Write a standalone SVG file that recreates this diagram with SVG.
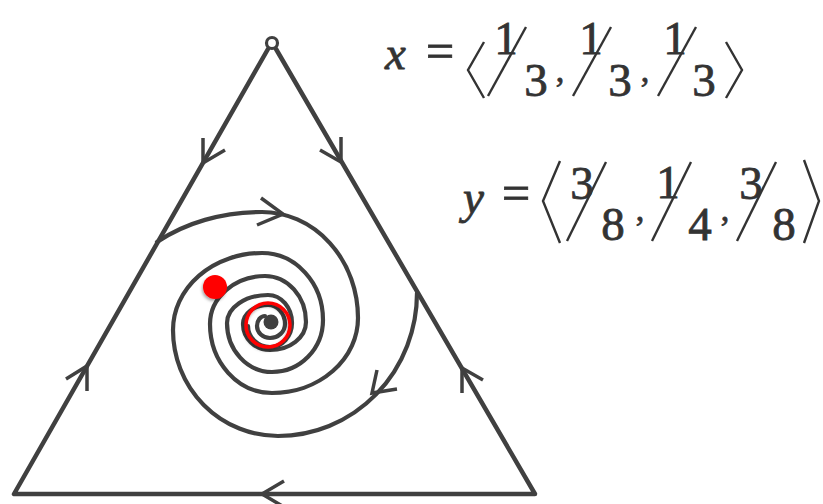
<svg xmlns="http://www.w3.org/2000/svg" width="823" height="504" viewBox="0 0 823 504">
<defs>
<style>
.ln{fill:none;stroke:#404040;stroke-width:4.5;stroke-linejoin:round;stroke-linecap:round}
.sp{fill:none;stroke:#404040;stroke-width:4.2;stroke-linecap:round}
.ar{fill:none;stroke:#404040;stroke-width:3.5;stroke-linecap:butt;stroke-linejoin:miter}
.tx{font-family:"Liberation Serif","Times New Roman",serif;fill:#333;stroke:#333;stroke-width:0.8;font-size:47px}
.it{font-style:italic;font-size:47px}
.eq{font-size:50px}
.cm{font-size:34px}
.dl{fill:none;stroke:#333;stroke-width:2.4}
</style>
<filter id="sh" x="-50%" y="-50%" width="200%" height="200%">
<feDropShadow dx="-1" dy="2" stdDeviation="1.5" flood-color="#000" flood-opacity="0.35"/>
</filter>
</defs>
<rect width="823" height="504" fill="#fff"/>
<g id="simplex">
<path class="ln" d="M268,49 L14,494 L535,494 L276,49"/>
<circle cx="272" cy="43" r="5.5" fill="#fff" stroke="#404040" stroke-width="3.2"/>
</g>
<g id="connectors">
<g id="trajectory-a">
<path class="sp" d="M157,242 C185,223 222,212 262,212 A96,106 0 0 1 358,318 A86,75 0 0 1 272,393 A62,69 0 0 1 210,324 A55,48 0 0 1 265,276 A41,46 0 0 1 306,322 A36,28 0 0 1 270,350 A27,26 0 0 1 243,324 A25,19 0 0 1 268,305 A17,19 0 0 1 285,324 A15,14 0 0 1 270,338 A13,12 0 0 1 257,326 A8,10 0 0 1 265,316"/>
</g>
<g id="trajectory-b">
<path class="sp" d="M417,293 A139,143 0 0 1 278,436 A105,106 0 0 1 173,330 A89,77 0 0 1 262,253 A61,67 0 0 1 323,320 A51,52 0 0 1 272,372 A45,49 0 0 1 227,323 A41,28 0 0 1 268,295 A24,28 0 0 1 292,323 A22,24 0 0 1 270,347 A22,21 0 0 1 248,326"/>
</g>
<g id="arrowheads">
<polyline class="ar" points="203,138 203,163 225,150"/>
<polyline class="ar" points="341,137 341,162 320,150"/>
<polyline class="ar" points="87,391 87,366 66,379"/>
<polyline class="ar" points="462,393 462,368 483,380"/>
<polyline class="ar" points="284,481 262,494 284,507"/>
<polyline class="ar" points="261,198 283,214 257,225"/>
<polyline class="ar" points="377,370 372,393 397,389"/>
</g>
</g>
<g id="equilibrium">
<circle cx="271" cy="322" r="7.5" fill="#404040"/>
<circle cx="268" cy="325" r="22" fill="none" stroke="#f00" stroke-width="3.5" filter="url(#sh)"/>
<circle cx="215" cy="287" r="12" fill="#f00" filter="url(#sh)"/>
</g>
<g id="label-x">
<text class="tx it" x="385" y="69">x</text>
<text class="tx eq" x="440" y="68" text-anchor="middle">=</text>
<polyline class="dl" points="484,42 468,70 484,98"/>
<text class="tx" x="506" y="54" text-anchor="middle">1</text>
<line class="dl" x1="488" y1="96" x2="526" y2="27"/>
<text class="tx" x="536" y="96" text-anchor="middle">3</text>
<text class="tx cm" x="560" y="82" text-anchor="middle">,</text>
<text class="tx" x="591" y="54" text-anchor="middle">1</text>
<line class="dl" x1="573" y1="96" x2="611" y2="27"/>
<text class="tx" x="620" y="96" text-anchor="middle">3</text>
<text class="tx cm" x="645" y="82" text-anchor="middle">,</text>
<text class="tx" x="675" y="54" text-anchor="middle">1</text>
<line class="dl" x1="658" y1="96" x2="696" y2="27"/>
<text class="tx" x="704" y="96" text-anchor="middle">3</text>
<polyline class="dl" points="726,42 742,70 726,98"/>
</g>
<g id="label-y">
<text class="tx it" x="463" y="213">y</text>
<text class="tx eq" x="516" y="210" text-anchor="middle">=</text>
<polyline class="dl" points="560,161 543,201 560,243"/>
<text class="tx" x="582" y="199" text-anchor="middle">3</text>
<line class="dl" x1="567" y1="241" x2="606" y2="162"/>
<text class="tx" x="613" y="240" text-anchor="middle">8</text>
<text class="tx cm" x="640" y="221" text-anchor="middle">,</text>
<text class="tx" x="668" y="198" text-anchor="middle">1</text>
<line class="dl" x1="652" y1="241" x2="691" y2="162"/>
<text class="tx" x="700" y="240" text-anchor="middle">4</text>
<text class="tx cm" x="725" y="221" text-anchor="middle">,</text>
<text class="tx" x="751" y="199" text-anchor="middle">3</text>
<line class="dl" x1="737" y1="241" x2="776" y2="162"/>
<text class="tx" x="784" y="240" text-anchor="middle">8</text>
<polyline class="dl" points="804,160 819,201 804,243"/>
</g>
</svg>
